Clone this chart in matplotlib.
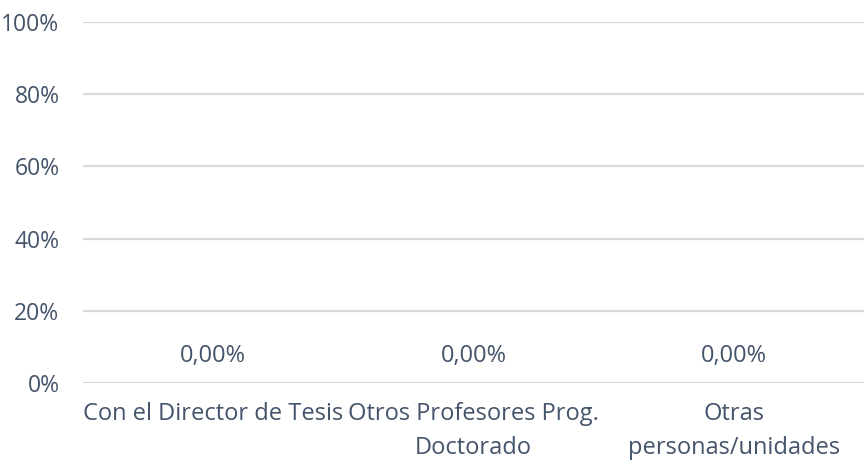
import matplotlib
matplotlib.use("Agg")
import matplotlib.pyplot as plt

categories = ["Con el Director de Tesis", "Otros Profesores Prog.\nDoctorado", "Otras\npersonas/unidades"]
values = [0.0, 0.0, 0.0]
value_labels = ["0,00%", "0,00%", "0,00%"]
yticks = [0, 20, 40, 60, 80, 100]
ytick_labels = ["0%", "20%", "40%", "60%", "80%", "100%"]

txt = "#44546a"
plt.rcParams['font.family'] = ['Open Sans', 'DejaVu Sans']
fs = 17

fig = plt.figure(figsize=(8.64, 4.66), dpi=100)
ax = fig.add_axes([83/864, 1-383/466, 1-83/864, (383-22)/466])

x = list(range(len(categories)))
bars = ax.bar(x, values, width=0.6, color="#4472c4")
ax.set_xlim(-0.5, 2.5)
ax.set_ylim(0, 100)
ax.set_yticks(yticks)
ax.set_yticklabels(ytick_labels)
ax.set_xticks(x)
ax.set_xticklabels(categories, linespacing=1.55)
ax.tick_params(axis='both', length=0, colors=txt, labelsize=fs)
ax.tick_params(axis='y', pad=17, labelsize=16.5)
ax.tick_params(axis='x', pad=14)
for lab in ax.get_xticklabels():
    lab.set_color(txt)
ax.grid(axis='y', color="#d9d9d9", linewidth=1.6)
ax.set_axisbelow(True)
for s in ax.spines.values():
    s.set_visible(False)

for xi, v, lab in zip(x, values, value_labels):
    ax.annotate(lab, (xi, v), xytext=(0, 19.5), textcoords='offset points',
                ha='center', va='center', color=txt, fontsize=fs)

fig.savefig("out.png", dpi=100)
